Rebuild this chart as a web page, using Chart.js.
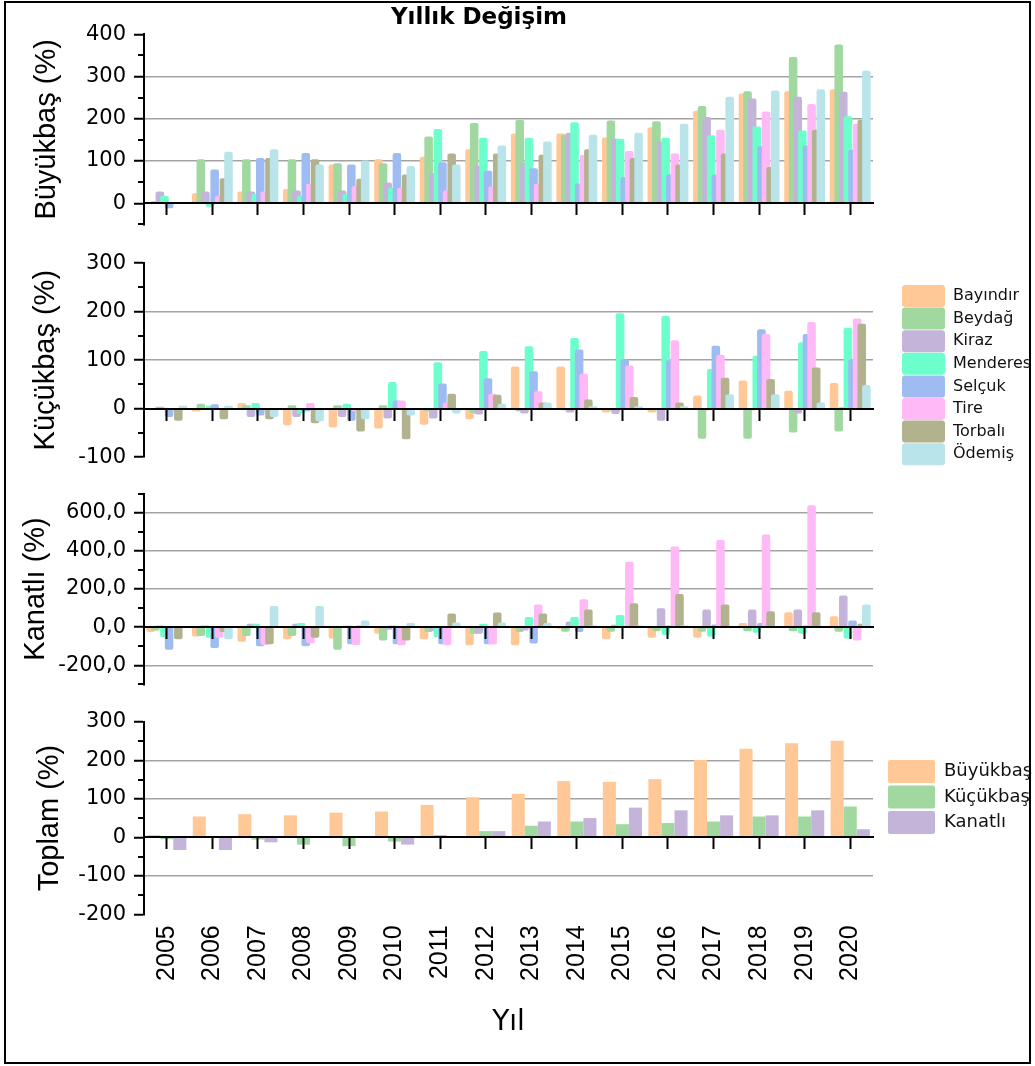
<!DOCTYPE html>
<html>
<head>
<meta charset="utf-8">
<script src="https://cdn.jsdelivr.net/npm/chart.js"></script>
<style>
  html, body { margin: 0; padding: 0; background: #fff; }
  #fig { position: relative; width: 1035px; height: 1066px; overflow: hidden; background: #fff; }
  #fig canvas { position: absolute; left: 0; }
  #frame { position: absolute; left: 4px; top: 1px; width: 1023px; height: 1059px; border: 2px solid #000; pointer-events: none; }
</style>
</head>
<body>
<div id="fig">
  <canvas id="buyukChart" width="1035" height="245" style="top:0px"></canvas>
  <canvas id="kucukChart" width="1035" height="242" style="top:238px"></canvas>
  <canvas id="kanatliChart" width="1035" height="239" style="top:466px"></canvas>
  <canvas id="toplamChart" width="1035" height="371" style="top:695px"></canvas>
  <div id="frame"></div>
</div>
<script>
const years = ['2005', '2006', '2007', '2008', '2009', '2010', '2011', '2012',
               '2013', '2014', '2015', '2016', '2017', '2018', '2019', '2020'];
const towns = ['Bayındır', 'Beydağ', 'Kiraz', 'Menderes', 'Selçuk', 'Tire', 'Torbalı', 'Ödemiş'];
const townColors = ['#ffc896', '#a0d8a0', '#c4b4da', '#6cffcc', '#9ebcf2', '#ffb9f6', '#b2b28f', '#b9e4ea'];

// Büyükbaş yıllık değişim (%) - one row per town, same order as `towns`
const buyukbas = [
  [2, 24, 28, 34, 92, 104, 110, 128, 165, 165, 156, 180, 219, 260, 265, 270],
  [5, 104, 104, 104, 95, 95, 158, 190, 198, 163, 196, 194, 230, 265, 346, 376],
  [28, 28, 28, 30, 30, 49, 71, 88, 96, 167, 153, 146, 204, 248, 252, 264],
  [18, -8, 22, 17, 22, 37, 176, 155, 155, 192, 153, 155, 161, 182, 172, 206],
  [-12, 80, 107, 119, 92, 119, 97, 77, 83, 47, 62, 68, 68, 135, 137, 127],
  [2, 18, 28, 46, 41, 37, 30, 40, 46, 114, 124, 118, 174, 217, 235, 188],
  [-2, 59, 107, 104, 58, 68, 118, 118, 115, 128, 107, 92, 118, 86, 174, 198],
  [3, 122, 128, 92, 101, 88, 92, 137, 146, 162, 167, 188, 252, 267, 270, 314]
];

// Küçükbaş yıllık değişim (%)
const kucukbas = [
  [-2, -6, 12, -34, -39, -41, -33, -22, 87, 87, -8, -8, 27, 58, 37, 53],
  [0, 10, 7, 7, 7, 7, -5, -10, -5, -3, -3, -3, -62, -62, -49, -47],
  [4, 0, -17, -17, -17, -20, -20, -12, -10, -8, -11, -25, -3, -3, -10, 3],
  [2, 6, 12, -10, 10, 55, 96, 119, 129, 146, 197, 191, 82, 109, 137, 167],
  [-17, 9, -14, -5, -25, 17, 52, 63, 77, 122, 102, 100, 130, 164, 154, 102],
  [0, 0, 0, 12, -5, 17, 13, 31, 36, 72, 89, 141, 111, 154, 179, 186],
  [-25, -22, -22, -30, -47, -63, 31, 29, 13, 19, 24, 13, 64, 61, 85, 175],
  [6, 6, -17, -26, -22, -14, -10, 10, 13, 5, 5, 5, 30, 30, 13, 49]
];

// Kanatlı yıllık değişim (%)
const kanatli = [
  [-26, -49, -76, -63, -60, -35, -63, -95, -95, -9, -63, -55, -55, 21, 78, 57],
  [-17, -47, -47, -47, -118, -70, -26, -35, -26, -24, -24, -22, -24, -22, -22, -24],
  [9, 9, 18, 18, -5, -14, -20, -35, -17, 30, 12, 99, 92, 92, 92, 166],
  [-53, -55, 18, 22, 9, 9, -53, 18, 53, 53, 64, -40, -50, -30, -35, -60],
  [-118, -109, -100, -100, -90, -90, -90, -90, -86, -26, 5, 9, 14, 21, 9, 35],
  [-5, -55, -93, -85, -93, -95, -95, -91, 118, 146, 342, 423, 457, 485, 639, -70],
  [-63, -26, -90, -56, 9, -70, 71, 76, 71, 92, 125, 173, 118, 83, 78, 18],
  [-5, -63, 111, 111, 35, 21, 24, 24, 21, 9, 9, 9, 2, 2, 2, 118]
];

// Toplam yıllık değişim (%)
const totLabels = ['Büyükbaş', 'Küçükbaş', 'Kanatlı'];
const totColors = ['#ffc896', '#a0d8a0', '#c4b4da'];
const totBuyukbas = [6, 54, 60, 57, 64, 67, 84, 104, 113, 146, 144, 151, 201, 230, 244, 251];
const totKucukbas = [-5, 1, -6, -19, -23, -11, 6, 16, 30, 41, 34, 37, 41, 54, 54, 80];
const totKanatli = [-33, -33, -13, 1, 1, -19, 1, 16, 41, 50, 77, 70, 57, 57, 70, 21];

// axis ticks: labelled values, and the ones that get a grey grid line
const buyukTicks = [0, 100, 200, 300, 400];
const buyukGrid = [100, 200, 300];
const kucukTicks = [-100, 0, 100, 200, 300];
const kucukGrid = [100, 200];
const kanatliTicks = [-200, 0, 200, 400, 600];
const kanatliGrid = [-200, 200, 400, 600];
const toplamTicks = [-200, -100, 0, 100, 200, 300];
const toplamGrid = [-100, 100, 200];

Chart.defaults.color = '#000';
Chart.defaults.font.family = "'DejaVu Sans', sans-serif";
Chart.defaults.animation = false;

const tickFont = { family: "'DejaVu Sans', sans-serif", size: 21 };
const axisTitleFont = { family: "'Liberation Sans', Arial, sans-serif", size: 29 };

// draw bars in dataset order, so later towns sit on top of earlier ones
const drawInOrder = {
  id: 'drawInOrder',
  beforeDatasetsDraw(chart) {
    chart.getSortedVisibleDatasetMetas().forEach(m => m.controller.draw());
    return false;
  }
};

// short unlabelled ticks between the major ones
const minorTicks = {
  id: 'minorTicks',
  afterDraw(chart, args, opts) {
    if (!opts.step) return;
    const s = chart.scales.y, ctx = chart.ctx;
    ctx.save();
    ctx.strokeStyle = '#000';
    ctx.lineWidth = 2;
    ctx.beginPath();
    for (let v = s.min; v <= s.max + 1e-6; v += opts.step) {
      if (s.ticks.some(t => Math.abs(t.value - v) < 1e-6)) continue;
      const py = Math.round(s.getPixelForValue(v));
      ctx.moveTo(s.right - 6, py);
      ctx.lineTo(s.right, py);
    }
    ctx.stroke();
    ctx.restore();
  }
};

// put the legend / title block at a fixed spot (canvas coordinates)
const pinBoxes = {
  id: 'pinBoxes',
  afterLayout(chart, args, opts) {
    if (opts.legendX != null) {
      const L = chart.legend;
      const pad = L.options.labels.padding;
      L.left = opts.legendX - pad;
      L.top = opts.legendY - pad;
      L.right = chart.width;
      L.bottom = chart.height;
      L.width = L.right - L.left;
      L.height = L.bottom - L.top;
    }
    if (opts.titleX != null) {
      const T = chart.titleBlock;
      T.left = opts.titleX - 250;
      T.right = opts.titleX + 250;
      T.width = 500;
    }
  }
};

function yAxis(o) {
  return {
    type: 'linear',
    position: 'left',
    min: o.min,
    max: o.max,
    afterBuildTicks: s => { s.ticks = o.ticks.map(v => ({ value: v })); },
    afterFit: s => { s.width = 144; },
    ticks: { font: tickFont, padding: 8, callback: o.fmt || (v => String(v)) },
    grid: {
      color: c => (c.tick && o.grid.includes(c.tick.value)) ? '#a3a3a3' : 'rgba(0,0,0,0)',
      lineWidth: 1.5,
      tickLength: 10,
      tickWidth: 2,
      tickColor: '#000'
    },
    border: { color: '#000', width: 2, z: 1 },
    title: { display: true, text: o.title, font: axisTitleFont, padding: { top: o.titlePad, bottom: 0 } }
  };
}

function xZeroAxis() {
  return {
    type: 'category',
    position: { y: 0 },
    offset: true,
    ticks: { display: false },
    grid: {
      display: true, offset: false, drawOnChartArea: false, drawTicks: true,
      tickLength: 11, tickWidth: 2, tickColor: '#000', z: 1
    },
    border: { color: '#000', width: 2, z: 1 }
  };
}

function townSets(rows) {
  return rows.map((vals, i) => ({
    label: towns[i],
    data: vals,
    backgroundColor: townColors[i],
    borderWidth: 0,
    borderRadius: 2,
    categoryPercentage: 0.81,
    barPercentage: 1.85,
    xAxisID: 'x',
    yAxisID: 'y'
  }));
}

function makePanel(id, cfg) {
  try {
    const el = document.getElementById(id);
    return new Chart(el, {
      type: 'bar',
      data: { labels: years, datasets: cfg.datasets },
      options: {
        responsive: false,
        animation: false,
        events: [],
        layout: { autoPadding: false, padding: cfg.padding },
        scales: Object.assign({ x: xZeroAxis(), y: yAxis(cfg.y) }, cfg.extraScales || {}),
        plugins: {
          legend: cfg.legend || { display: false },
          title: cfg.title || { display: false },
          tooltip: { enabled: false },
          minorTicks: { step: cfg.minorStep },
          pinBoxes: cfg.pin || {}
        }
      },
      plugins: [drawInOrder, minorTicks, pinBoxes]
    });
  } catch (e) {
    console.error('chart error ' + id, e);
  }
}

// Büyükbaş
makePanel('buyukChart', {
  datasets: townSets(buyukbas),
  padding: { left: 0, right: 162, top: 0, bottom: 19.5 },
  y: { min: -50, max: 400, ticks: buyukTicks, grid: buyukGrid, title: 'Büyükbaş (%)', titlePad: 30 },
  minorStep: 50,
  title: {
    display: true, text: 'Yıllık Değişim',
    font: { family: "'DejaVu Sans', sans-serif", size: 23, weight: 'bold' },
    padding: { top: 4.5, bottom: 2.2 }
  },
  pin: { titleX: 479 }
});

// Küçükbaş (canvas starts at y=238)
makePanel('kucukChart', {
  datasets: townSets(kucukbas),
  padding: { left: 0, right: 161, top: 25.2, bottom: 22.8 },
  y: { min: -100, max: 300, ticks: kucukTicks, grid: kucukGrid, title: 'Küçükbaş (%)', titlePad: 29 },
  minorStep: 50,
  legend: {
    display: true, position: 'right', align: 'start', maxWidth: 1,
    labels: {
      boxWidth: 43, boxHeight: 22, padding: 0.6, color: '#111',
      font: { family: "'DejaVu Sans', sans-serif", size: 16 },
      useBorderRadius: true, borderRadius: 3
    }
  },
  pin: { legendX: 902, legendY: 47 }
});

// Kanatlı
makePanel('kanatliChart', {
  datasets: townSets(kanatli),
  padding: { left: 0, right: 162, top: 27.5, bottom: 20 },
  y: {
    min: -300, max: 700, ticks: kanatliTicks, grid: kanatliGrid, title: 'Kanatlı (%)', titlePad: 19,
    fmt: v => v.toFixed(1).replace('.', ',')
  },
  minorStep: 100
});

// Toplam (canvas starts at y=695)
makePanel('toplamChart', {
  datasets: [totBuyukbas, totKucukbas, totKanatli].map((vals, i) => ({
    label: totLabels[i],
    data: vals,
    backgroundColor: totColors[i],
    borderWidth: 0,
    categoryPercentage: 0.86,
    barPercentage: 1.0,
    xAxisID: 'x',
    yAxisID: 'y'
  })),
  padding: { left: 0, right: 161, top: 26.8, bottom: 0 },
  y: { min: -200, max: 300, ticks: toplamTicks, grid: toplamGrid, title: 'Toplam (%)', titlePad: 33 },
  minorStep: 50,
  extraScales: {
    x2: {
      type: 'category',
      position: 'bottom',
      offset: true,
      afterFit: s => { s.height = 151.7; },
      grid: { display: false, drawTicks: false },
      border: { display: false },
      ticks: {
        minRotation: 90, maxRotation: 90, autoSkip: false, padding: 11,
        font: { family: "'Liberation Sans', Arial, sans-serif", size: 25 }
      },
      title: {
        display: true, text: 'Yıl',
        font: { family: "'DejaVu Sans', sans-serif", size: 28 },
        padding: { top: 0, bottom: 26.2 }
      }
    }
  },
  legend: {
    display: true, position: 'right', align: 'start', maxWidth: 1,
    labels: {
      boxWidth: 47, boxHeight: 23, padding: 2.5, color: '#111',
      font: { family: "'DejaVu Sans', sans-serif", size: 18 },
      useBorderRadius: true, borderRadius: 2
    }
  },
  pin: { legendX: 888, legendY: 65 }
});
</script>
</body>
</html>
